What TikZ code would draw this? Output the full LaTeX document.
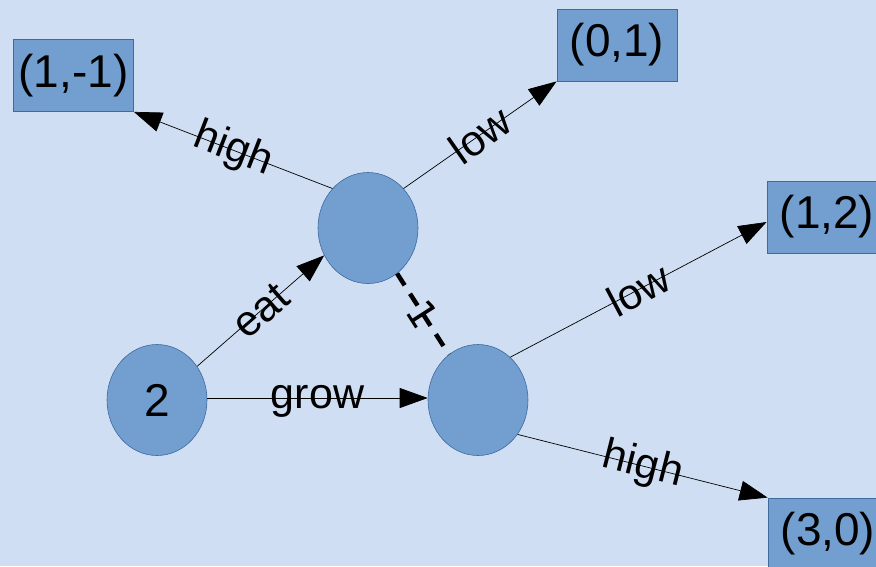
\documentclass[tikz,border=0pt]{standalone}
\usepackage{fontspec}
\setmainfont{Liberation Sans}
\newfontfamily\dejavu{DejaVu Sans}
\usetikzlibrary{arrows.meta,shapes.geometric}
\definecolor{bgblue}{RGB}{208,222,243}
\definecolor{nodeblue}{RGB}{114,159,207}
\definecolor{edgeblue}{RGB}{62,106,160}
\tikzset{>={Triangle[length=28pt,width=20pt]}}
\tikzset{
  state/.style={ellipse, fill=nodeblue, draw=edgeblue, line width=0.6pt,
    minimum width=100pt, minimum height=111pt, inner sep=0pt,
    font=\fontsize{46}{50}\selectfont},
  payoff/.style={rectangle, fill=nodeblue, draw=edgeblue, line width=0.8pt,
    minimum width=120pt, minimum height=72pt, inner sep=0pt,
    font=\fontsize{46}{50}\selectfont},
  move/.style={->, line width=0.7pt},
  lbl/.style={sloped, midway, inner sep=0pt, font=\fontsize{43}{46}\selectfont},
}

\begin{document}
\begin{tikzpicture}[x=1pt,y=-1pt]

  \useasboundingbox (0,0) rectangle (876,566);
  \clip (0,0) rectangle (876,566);
  \fill[bgblue] (0,0) rectangle (876,566);

  % decision nodes
  \node[state] (root)  at (157,400) {2};
  \node[state] (seat)  at (368,228) {};
  \node[state] (sgrow) at (478,400) {};

  % payoffs
  \node[payoff] (om11) at (73.5,75.5) {(1,-1)};
  \node[payoff] (o01)  at (617,45)    {(0,1)};
  \node[payoff] (o12)  at (827,217)   {(1,2)};
  \node[payoff] (o30)  at (828,534)   {(3,0)};

  \draw[move] (root.40) -- node[lbl]{eat} (seat.212);
  \draw[move] ([yshift=2pt]root.east) -- node[lbl, yshift=-3pt]{grow} ([yshift=2pt]sgrow.west);

  \draw[move] (seat.132) -- node[lbl]{high} (om11.south east);
  \draw[move] (seat.48) -- node[lbl]{low} (o01.south west);

  % information link
  \draw[line width=4.5pt, dash pattern=on 14pt off 10pt] (seat) --
    node[lbl, font=\dejavu\fontsize{38}{40}\selectfont]{1} (sgrow);

  \draw[move] (sgrow.53) -- node[lbl]{low} ([yshift=-5pt]o12.west);
  \draw[move] (sgrow.-41) -- node[lbl]{high} (o30.north west);

\end{tikzpicture}
\end{document}
